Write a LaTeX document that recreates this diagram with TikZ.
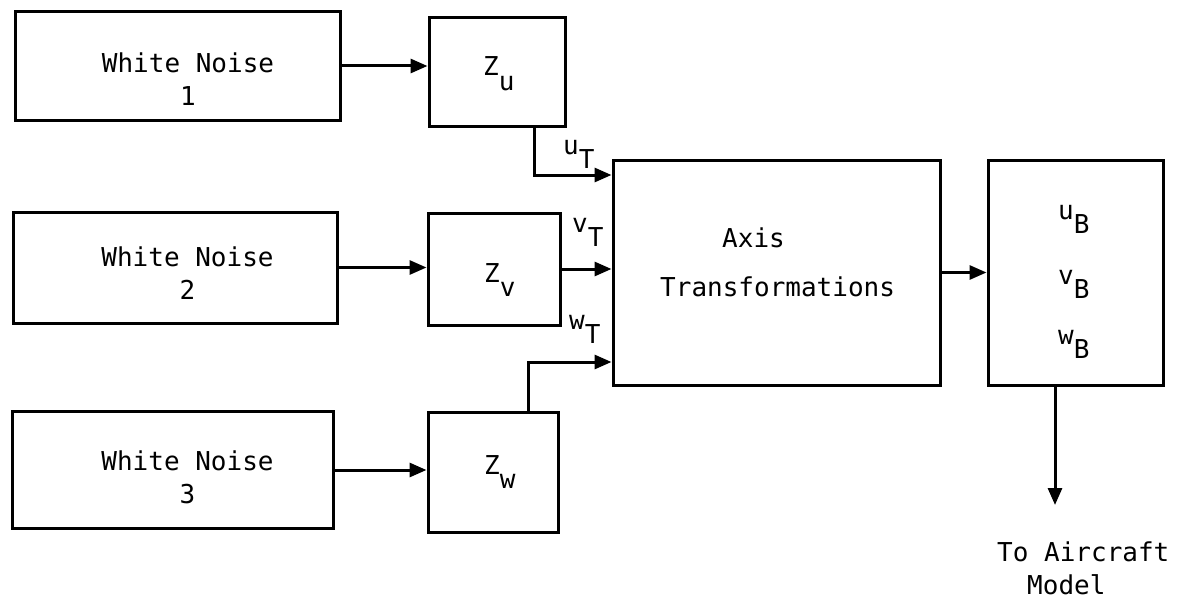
\documentclass[tikz,border=0pt]{standalone}
\usepackage{fontspec}
\setmainfont{DejaVu Sans Mono}
\usetikzlibrary{arrows.meta,calc}
\newcommand{\lowsub}[2]{#1\raisebox{-0.55em}{#2}}
\tikzset{
  box/.style={draw, line width=3pt, inner sep=0pt},
  txt/.style={inner sep=0pt, font=\fontsize{26}{33}\selectfont},
  arr/.style={line width=3pt, -{Triangle[length=17pt,width=14pt]}},
  ln/.style={line width=3pt}
}
\begin{document}
\begin{tikzpicture}[x=1pt,y=-1pt]
\useasboundingbox (0,0) rectangle (1178,602);
% boxes
\node[box, minimum width=325, minimum height=108] (wn1) at (177.5,66) {};
\node[box, minimum width=324, minimum height=111] (wn2) at (175,267.5) {};
\node[box, minimum width=321, minimum height=117] (wn3) at (172.5,470) {};
\node[box, minimum width=136, minimum height=108] (zu) at (497,72) {};
\node[box, minimum width=132, minimum height=112] (zv) at (494,269) {};
\node[box, minimum width=130, minimum height=120] (zw) at (493,472) {};
\node[box, minimum width=327, minimum height=225] (axis) at (776.5,272.5) {};
\node[box, minimum width=175, minimum height=225] (out) at (1075.5,272.5) {};
% texts
\node[txt, align=center] (t1) at (188,79) {White Noise\\1};
\node[txt, align=center] (t2) at (187.5,273) {White Noise\\2};
\node[txt, align=center] (t3) at (187.5,477) {White Noise\\3};
\node[txt, anchor=base west] (tzu) at (483,76) {\lowsub{Z}{u}};
\node[txt, anchor=base west] (tzv) at (484,282) {\lowsub{Z}{v}};
\node[txt, anchor=base west] (tzw) at (484,474) {\lowsub{Z}{w}};
\node[txt, anchor=base west] (lut) at (563,154) {\lowsub{u}{T}};
\node[txt, anchor=base west] (lvt) at (572,232) {\lowsub{v}{T}};
\node[txt, anchor=base west] (lwt) at (569,329) {\lowsub{w}{T}};
\node[txt, anchor=base west] (ax1) at (722,247) {Axis};
\node[txt, anchor=base west] (ax2) at (660,296) {Transformations};
\node[txt, anchor=base west] (ub) at (1058,219) {\lowsub{u}{B}};
\node[txt, anchor=base west] (vb) at (1058,284) {\lowsub{v}{B}};
\node[txt, anchor=base west] (wb) at (1058,344) {\lowsub{w}{B}};
\node[txt, anchor=base west] (to1) at (997,561) {To Aircraft};
\node[txt, anchor=base west] (to2) at (1027,594) {Model};
\coordinate (tip) at (1055,505);
% connectors
\draw[arr] (wn1.east) -- (wn1.east -| zu.west);
\draw[arr] (wn2.east) -- (wn2.east -| zv.west);
\draw[arr] (wn3.east) -- (wn3.east -| zw.west);
\draw[arr] (zv.east) -- (zv.east -| axis.west);
\draw[arr] ([xshift=37pt]zu.south) |- ([yshift=97.5pt]axis.west);
\draw[arr] ([xshift=35pt]zw.north) |- ([yshift=-89.5pt]axis.west);
\draw[arr] (axis.east) -- (axis.east -| out.west);
\draw[arr] ([xshift=-20.5pt]out.south) -- (tip);
\end{tikzpicture}
\end{document}
